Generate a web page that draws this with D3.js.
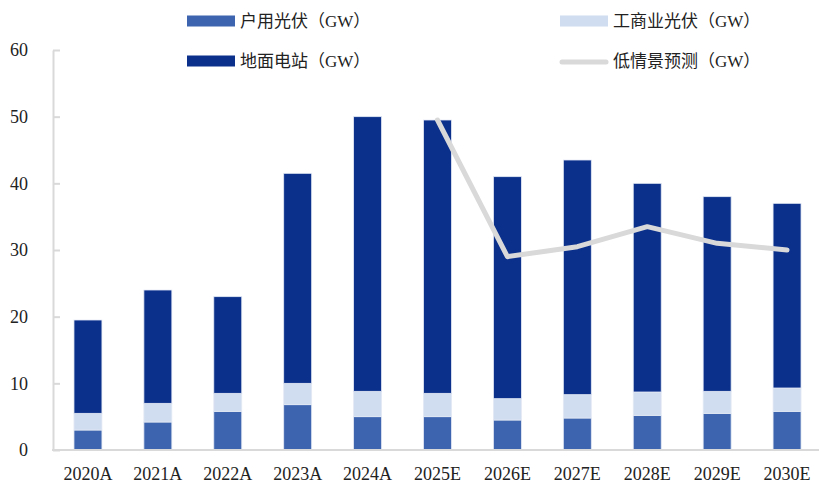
<!DOCTYPE html>
<html>
<head>
<meta charset="utf-8">
<script src="https://cdn.jsdelivr.net/npm/d3@7/dist/d3.min.js"></script>
<style>
  html, body { margin: 0; padding: 0; background: #fff; }
  svg { display: block; }
</style>
</head>
<body>
<svg id="chart" width="819" height="488"></svg>
<script>
// Years shown on the x axis (A = actual, E = estimate)
const years = ["2020A","2021A","2022A","2023A","2024A","2025E","2026E","2027E","2028E","2029E","2030E"];
// Installed capacity by segment, GW
const household  = [3.0, 4.2, 5.8, 6.8, 5.0, 5.0, 4.5, 4.8, 5.2, 5.5, 5.8];
const commercial = [2.5, 2.8, 2.7, 3.2, 3.8, 3.5, 3.2, 3.5, 3.5, 3.3, 3.5];
const utility    = [14.0, 17.0, 14.5, 31.5, 41.2, 41.0, 33.3, 35.2, 31.3, 29.2, 27.7];
// Low-case forecast line, GW
const lowYears = ["2025E","2026E","2027E","2028E","2029E","2030E"];
const lowCase  = [49.5, 29.0, 30.5, 33.5, 31.0, 30.0];
const yTicks = [0, 10, 20, 30, 40, 50, 60];

const seriesNames = ["户用光伏（GW）", "工商业光伏（GW）", "地面电站（GW）", "低情景预测（GW）"];
const colors = ["#3d64ae", "#d0dcef", "#0b308c", "#d9d9d9"];

const svg = d3.select("#chart");
const latin = "'Liberation Serif', 'Times New Roman', serif";
const cjk = "'Liberation Serif', 'Noto Sans CJK SC', serif";

const x = d3.scaleBand().domain(years).range([53, 822]).paddingInner(0.6).paddingOuter(0.3);
const y = d3.scaleLinear().domain([0, 60]).range([450, 50]);

// Stack the three segments
const rows = years.map((yr, i) => ({ year: yr, household: household[i], commercial: commercial[i], utility: utility[i] }));
const keys = ["household", "commercial", "utility"];
const stacked = d3.stack().keys(keys)(rows);

svg.append("g").selectAll("g")
  .data(stacked)
  .join("g")
  .attr("fill", (d, i) => colors[i])
  .selectAll("rect")
  .data(d => d)
  .join("rect")
  .attr("x", d => x(d.data.year))
  .attr("width", x.bandwidth())
  .attr("y", d => y(d[1]))
  .attr("height", d => y(d[0]) - y(d[1]))
  .attr("stroke", "#e3e9f4")
  .attr("stroke-width", 0.8);

// Axes
const yAxis = d3.axisLeft(y).tickValues(yTicks).tickSize(-7).tickPadding(25).tickSizeOuter(0);
const gy = svg.append("g").attr("transform", "translate(53,0)").call(yAxis);
gy.select(".domain").attr("stroke", "#d9d9d9").attr("stroke-width", 2);
gy.selectAll(".tick line").attr("stroke", "#d9d9d9").attr("stroke-width", 2);
gy.selectAll(".tick text").attr("font-family", latin).attr("font-size", 18).attr("fill", "#222");

const xAxis = d3.axisBottom(x).tickSize(0).tickPadding(17);
const gx = svg.append("g").attr("transform", "translate(0,450)").call(xAxis);
gx.select(".domain").attr("stroke", "#d9d9d9").attr("stroke-width", 2).attr("d", "M52,0H819");
gx.selectAll(".tick text").attr("font-family", latin).attr("font-size", 18).attr("fill", "#222");

// Low-case forecast line
const line = d3.line()
  .x((d, i) => x(lowYears[i]) + x.bandwidth() / 2)
  .y(d => y(d));
svg.append("path")
  .datum(lowCase)
  .attr("d", line)
  .attr("fill", "none")
  .attr("stroke", colors[3])
  .attr("stroke-width", 5)
  .attr("stroke-linejoin", "round")
  .attr("stroke-linecap", "round");

// Legend
const legendPos = [
  { x: 187, y: 21 }, { x: 560, y: 21 },
  { x: 187, y: 61 }, { x: 560, y: 61 }
];
const lg = svg.append("g");
seriesNames.forEach((name, i) => {
  const p = legendPos[i];
  if (i < 3) {
    lg.append("rect").attr("x", p.x).attr("y", p.y - 5.5).attr("width", 48).attr("height", 11).attr("fill", colors[i]);
  } else {
    lg.append("line").attr("x1", p.x + 2).attr("x2", p.x + 46).attr("y1", p.y + 1).attr("y2", p.y + 1)
      .attr("stroke", colors[i]).attr("stroke-width", 5).attr("stroke-linecap", "round");
  }
  lg.append("text")
    .attr("x", p.x + 53)
    .attr("y", p.y)
    .attr("dy", "0.35em")
    .attr("font-family", cjk)
    .attr("font-size", 17)
    .attr("fill", "#222")
    .text(name);
});
</script>
</body>
</html>
